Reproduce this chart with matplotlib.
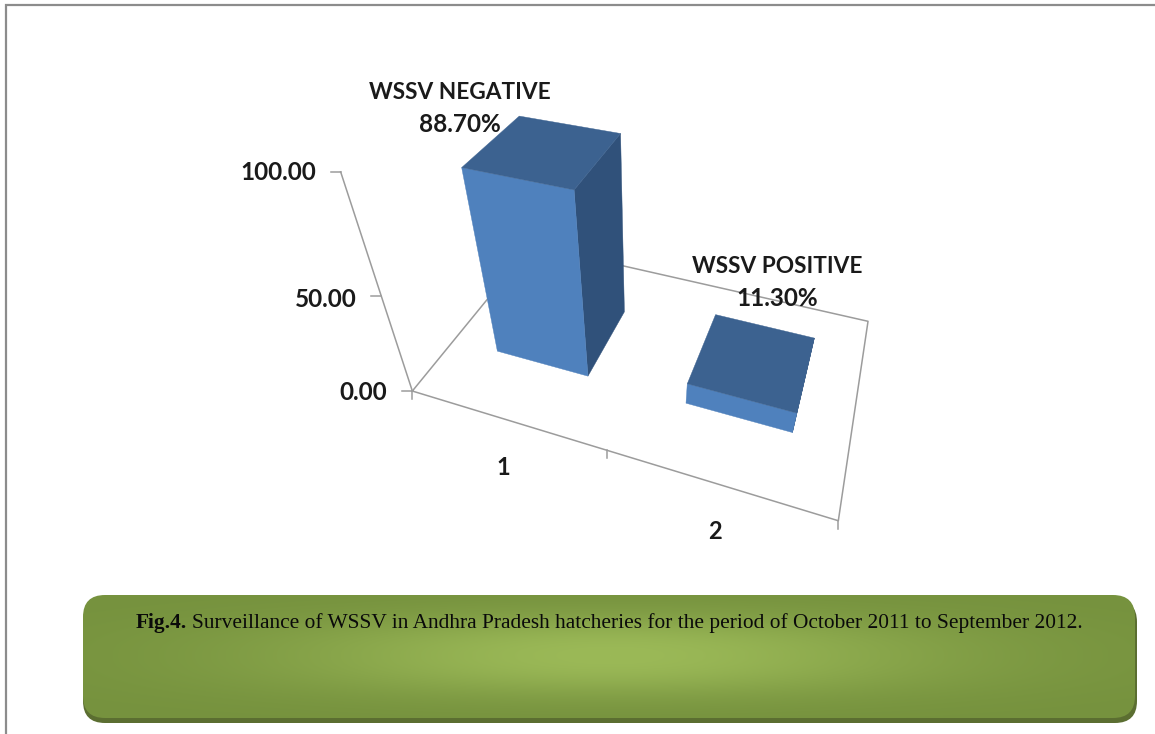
import numpy as np
import matplotlib
matplotlib.use("Agg")
import matplotlib.pyplot as plt
from matplotlib.patches import Polygon, FancyBboxPatch

# Chart data
categories = ["1", "2"]
values = [88.70, 11.30]
series_names = ["WSSV NEGATIVE", "WSSV POSITIVE"]
value_ticks = [0.0, 50.0, 100.0]
caption_bold = "Fig.4."
caption_text = ("Surveillance of WSSV in Andhra Pradesh hatcheries "
                "for the period of October 2011 to September 2012.")

WIDTH, HEIGHT = 1155, 734
BAR_HALF_WIDTH = 0.25
BAR_DEPTH = (0.30, 0.70)
FRONT, TOP, SIDE = "#4f81bd", "#3c6290", "#30517a"
GRID = "#9c9c9c"
LABEL_FONT = dict(family="Lato", weight="bold", color="#1a1a1a")

# Perspective camera: (category, value, depth) -> pixel, fitted by DLT from
# correspondences of the floor, the value axis and the box corners.
anchors = [
    ((0, 0, 0), (413, 391)), ((2, 0, 0), (838, 521)), ((2, 0, 1), (868, 321)),
    ((0, 0, 1), (531, 245)), ((0, 100, 0), (341, 172)), ((0, 50, 0), (380, 296)),
    ((.25, 0, .3), (498, 351)), ((.75, 0, .3), (587, 376)), ((.75, 0, .7), (625, 312)),
    ((.25, 88.7, .3), (462, 168)), ((.75, 88.7, .3), (574, 189)),
    ((.75, 88.7, .7), (621, 133)), ((.25, 88.7, .7), (519, 117)),
    ((1.25, 0, .3), (687, 403)), ((1.75, 0, .3), (792, 433)),
    ((1.25, 11.3, .3), (687, 384)), ((1.75, 11.3, .3), (797, 413)),
    ((1.75, 11.3, .7), (814, 338)), ((1.25, 11.3, .7), (716, 315)),
]


def fit_camera(pairs):
    rows = []
    for (u, w, v), (x, y) in pairs:
        rows.append([u, w, v, 1, 0, 0, 0, 0, -x * u, -x * w, -x * v, -x])
        rows.append([0, 0, 0, 0, u, w, v, 1, -y * u, -y * w, -y * v, -y])
    return np.linalg.svd(np.array(rows, float))[2][-1].reshape(3, 4)


CAMERA = fit_camera(anchors)


def project(u, w, v):
    h = CAMERA @ np.array([u, w, v, 1.0])
    return h[:2] / h[2]


fig = plt.figure(figsize=(WIDTH / 100, HEIGHT / 100), dpi=100, facecolor="white")
ax = fig.add_axes([0, 0, 1, 1])
ax.set_axis_off()

# Page frame
ax.plot([6, 6, WIDTH], [HEIGHT, 5, 5], color="#8c8c8c", lw=1.6, solid_joinstyle="miter")

# Floor outline and value axis
floor = [project(0, 0, 0), project(2, 0, 0), project(2, 0, 1), project(0, 0, 1), project(0, 0, 0)]
ax.plot(*zip(*floor), color=GRID, lw=1.1, zorder=1)
ax.plot(*zip(project(0, 0, 0), project(0, 100, 0)), color=GRID, lw=1.1, zorder=1)

# Value ticks and labels
for tick in value_ticks:
    x, y = project(0, tick, 0)
    ax.plot([x - 10, x], [y, y], color=GRID, lw=1.1, zorder=1)
    ax.text(x - 25, y + (3 if tick == 50 else 1), f"{tick:.2f}", ha="right", va="center",
            fontsize=17.5, **LABEL_FONT)

# Category ticks and labels
for pos in range(len(categories) + 1):
    x, y = project(pos, 0, 0)
    ax.plot([x, x], [y, y + 8], color=GRID, lw=1.1, zorder=1)
for pos, name in enumerate(categories):
    x, y = project(pos + 0.5, 0, 0)
    ax.text(x - 2, y + 48, name, ha="center", va="center", fontsize=17, **LABEL_FONT)

# Boxes, back to front
for pos, val in enumerate(values):
    u0, u1 = pos + 0.5 - BAR_HALF_WIDTH, pos + 0.5 + BAR_HALF_WIDTH
    v0, v1 = BAR_DEPTH
    side = [project(u1, 0, v0), project(u1, 0, v1), project(u1, val, v1), project(u1, val, v0)]
    front = [project(u0, 0, v0), project(u1, 0, v0), project(u1, val, v0), project(u0, val, v0)]
    top = [project(u0, val, v0), project(u1, val, v0), project(u1, val, v1), project(u0, val, v1)]
    for poly, colour in ((side, SIDE), (front, FRONT), (top, TOP)):
        ax.add_patch(Polygon(poly, closed=True, facecolor=colour, edgecolor=colour, lw=0.3, zorder=3))

# Value labels above each box
label_offsets = [(-109, -32), (13, -60)]
for pos, (val, name) in enumerate(zip(values, series_names)):
    x, y = project(pos + 0.5, val, BAR_DEPTH[1])
    dx, dy = label_offsets[pos]
    cx, cy = x + dx, y + dy
    ax.text(cx, cy, name, ha="center", va="center", fontsize=16.3, zorder=5, **LABEL_FONT)
    ax.text(cx, cy + 32, f"{val:.2f}%", ha="center", va="center", fontsize=17.5, zorder=5, **LABEL_FONT)

# Caption panel: darker slab beneath a shaded rounded face
slab = FancyBboxPatch((83 + 22, 600 + 22), 1054 - 44, 123 - 44,
                      boxstyle="round,pad=22,rounding_size=22",
                      facecolor="#5b6e31", edgecolor="none", zorder=2)
ax.add_patch(slab)
face = FancyBboxPatch((83 + 22, 595 + 22), 1052 - 44, 123 - 44,
                      boxstyle="round,pad=22,rounding_size=22",
                      facecolor="none", edgecolor="none", zorder=2)
ax.add_patch(face)
xs, ys = np.meshgrid(np.arange(83, 1136), np.arange(595, 719))
glow = np.exp(-((xs - 610) / 330.0) ** 2) * np.exp(-np.abs((ys - 655) / 40.0) ** 2.4)
edge_colour = np.array([118, 146, 62]) / 255
mid_colour = np.array([155, 185, 87]) / 255
shade = edge_colour + glow[..., None] * (mid_colour - edge_colour)
image = ax.imshow(shade, extent=(83, 1136, 719, 595), aspect="auto", zorder=2.5, interpolation="bilinear")
image.set_clip_path(face)

# Caption text: bold lead-in followed by regular text
ax.text(136, 628, caption_bold, family="Liberation Serif", weight="bold",
        fontsize=15.4, color="#0a0a0a", va="baseline", ha="left", zorder=6)
ax.text(192, 628, caption_text, family="Liberation Serif", fontsize=15.43,
        color="#0a0a0a", va="baseline", ha="left", zorder=6)

ax.set_xlim(0, WIDTH)
ax.set_ylim(HEIGHT, 0)
fig.savefig("out.png", dpi=100)
